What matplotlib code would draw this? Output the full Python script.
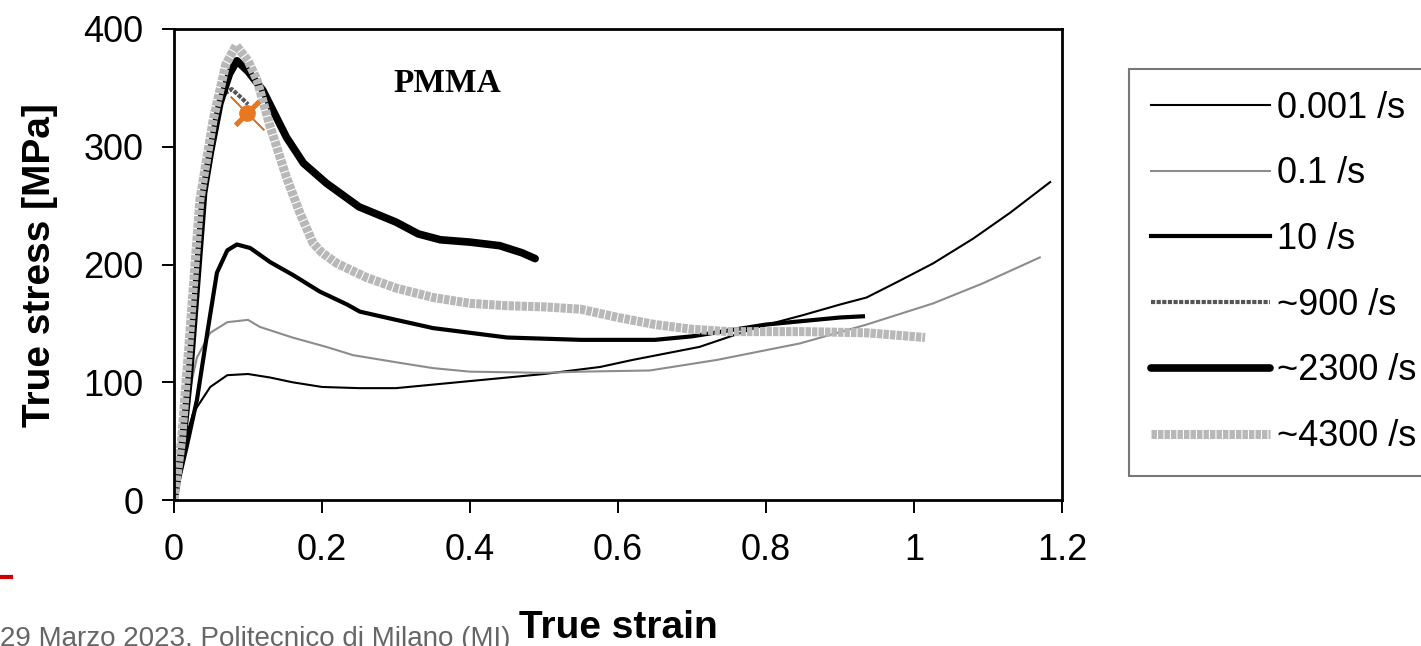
import matplotlib
matplotlib.use('Agg')
import matplotlib.pyplot as plt
from matplotlib.lines import Line2D

plt.rcParams['font.family'] = ['Liberation Sans', 'DejaVu Sans']

# strain rates (legend labels)
labels = ['0.001 /s', '0.1 /s', '10 /s', '~900 /s', '~2300 /s', '~4300 /s']

# true strain / true stress [MPa]
x_0001 = [0, 0.015, 0.026, 0.049, 0.072, 0.1, 0.13, 0.16, 0.2, 0.25, 0.3, 0.35, 0.4, 0.45, 0.5,
          0.576, 0.62, 0.71, 0.79, 0.85, 0.9, 0.936, 0.98, 1.026, 1.08, 1.13, 1.184]
y_0001 = [0, 51, 74, 96, 106, 107, 104, 100, 96, 95, 95, 98, 101, 104, 107,
          113, 119, 130, 147, 157, 166, 172, 186, 201, 222, 244, 270]

x_01 = [0, 0.01, 0.02, 0.031, 0.049, 0.072, 0.1, 0.116, 0.16, 0.206, 0.242, 0.3, 0.35, 0.4, 0.5,
        0.55, 0.643, 0.734, 0.846, 0.936, 1.026, 1.093, 1.17]
y_01 = [0, 45, 90, 121, 142, 151, 153, 147, 138, 130, 123, 117, 112, 109, 108,
        109, 110, 119, 133, 149, 167, 184, 206]

x_10 = [0, 0.017, 0.031, 0.045, 0.058, 0.072, 0.085, 0.103, 0.13, 0.161, 0.197, 0.234, 0.251, 0.3,
        0.35, 0.4, 0.45, 0.5, 0.55, 0.6, 0.65, 0.7, 0.75, 0.8, 0.85, 0.9, 0.931]
y_10 = [0, 45, 85, 142, 193, 212, 217, 214, 202, 191, 177, 166, 160, 153,
        146, 142, 138, 137, 136, 136, 136, 139, 144, 149, 152, 155, 156]

x_900 = [0, 0.01, 0.02, 0.03, 0.04, 0.05, 0.06, 0.068, 0.078, 0.092, 0.1]
y_900 = [0, 40, 100, 180, 255, 300, 333, 345, 349, 341, 336]

x_2300 = [0, 0.01, 0.02, 0.03, 0.04, 0.049, 0.062, 0.075, 0.085, 0.1, 0.12, 0.152, 0.175, 0.206,
          0.25, 0.3, 0.33, 0.36, 0.4, 0.44, 0.47, 0.488]
y_2300 = [0, 40, 100, 180, 261, 295, 337, 362, 373, 364, 348, 308, 286, 269,
          249, 236, 226, 221, 219, 216, 210, 205]

x_4300 = [0, 0.01, 0.02, 0.035, 0.053, 0.07, 0.084, 0.1, 0.112, 0.13, 0.152, 0.17, 0.188, 0.2,
          0.22, 0.26, 0.3, 0.35, 0.4, 0.45, 0.5, 0.55, 0.6, 0.65, 0.7, 0.75, 0.85, 0.936, 1.015]
y_4300 = [0, 50, 130, 255, 323, 370, 386, 373, 357, 317, 274, 244, 218, 210,
          201, 189, 180, 172, 167, 165, 164, 162, 155, 149, 145, 143, 143, 142, 138]

# cursor mark left on the picture
cursor_x = [0.099]
cursor_y = [329]

fig = plt.figure(figsize=(14.21, 6.46), dpi=100)
ax = fig.add_axes([174/1421, 1-500/646, 888/1421, 471/646])

lines = []
lines += ax.plot(x_0001, y_0001, color='black', lw=1.5)
lines += ax.plot(x_01, y_01, color='#8c8c8c', lw=1.5)
lines += ax.plot(x_10, y_10, color='black', lw=3)
lines += ax.plot(x_900, y_900, color='#555555', lw=3, ls=(0, (1.0, 0.35)))
lines += ax.plot(x_2300, y_2300, color='black', lw=5.5, solid_capstyle='round')
lines += ax.plot(x_4300, y_4300, color='#b8b8b8', lw=6.5, ls=(0, (0.6, 0.12)))

ax.plot(cursor_x, cursor_y, ls='none', marker=(2, 2, 45), ms=34, mew=1.2, color='#e87722')
ax.plot(cursor_x, cursor_y, ls='none', marker=(2, 2, -45), ms=24, mew=3.5, color='#e87722')
ax.plot(cursor_x, cursor_y, ls='none', marker='o', ms=11, color='#e87722')

ax.text(0.37, 354, 'PMMA', family='Liberation Serif', fontweight='bold', fontsize=24,
        ha='center', va='center')

ax.set_xlim(0, 1.2)
ax.set_ylim(0, 400)
ax.set_xticks([0, 0.2, 0.4, 0.6, 0.8, 1.0, 1.2])
ax.set_xticklabels(['0', '0.2', '0.4', '0.6', '0.8', '1', '1.2'])
ax.set_yticks([0, 100, 200, 300, 400])
ax.tick_params(axis='both', direction='out', length=9, width=1.4, labelsize=26, color='black')
ax.tick_params(axis='x', pad=15)
ax.tick_params(axis='y', pad=13)
for s in ax.spines.values():
    s.set_linewidth(2)
    s.set_color('black')

fig.text(40/1421, 1-265/646, 'True stress [MPa]', rotation=90, ha='center', va='center',
         fontsize=28, fontweight='bold')
fig.text(618/1421, 1-628/646, 'True strain', ha='center', va='center',
         fontsize=28, fontweight='bold')

leg = fig.legend(lines, labels, loc='upper left', bbox_to_anchor=(1129/1421, 1-69/646),
                 borderaxespad=0, fontsize=26, handlelength=3.3, handletextpad=0.2,
                 borderpad=0.6, labelspacing=0.85, fancybox=False, framealpha=1)
leg.get_frame().set_edgecolor('#777777')
leg.get_frame().set_linewidth(1.5)

# slide footer, cut by the bottom edge
fig.text(0.0, 1-626/646, '29 Marzo 2023, Politecnico di Milano (MI)', ha='left', va='top',
         fontsize=20, color='#666666')
fig.add_artist(Line2D([0, 11/1421], [1-577/646, 1-577/646], color='#cc0000', lw=3))

fig.savefig('out.png', dpi=100)
